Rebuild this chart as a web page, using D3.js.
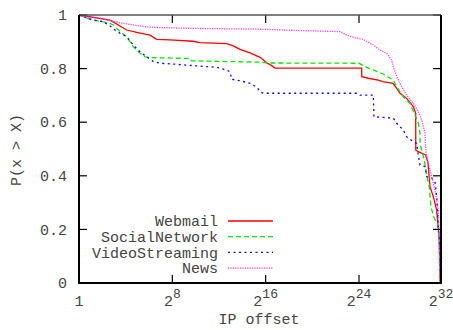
<!DOCTYPE html>
<html>
<head>
<meta charset="utf-8">
<script src="https://cdn.jsdelivr.net/npm/d3@7"></script>
<style>
  html, body { margin: 0; padding: 0; background: #fff; }
  svg { display: block; }
  text { font-family: "Liberation Mono", "DejaVu Sans Mono", monospace; fill: #444; }
</style>
</head>
<body>
<svg id="chart" width="453" height="330"></svg>
<script>
// CCDF of IP offsets; x values are log2(offset), y values are P(x > X)
const seriesNames = ["Webmail", "SocialNetwork", "VideoStreaming", "News"];

const webmailX = [0, 2.66, 4.09, 4.95, 6.09, 6.66, 7.8, 9.77, 10.37, 12.66, 13.23, 13.8, 14.66, 15.52, 16.09, 16.52, 16.8, 24.26, 24.27, 24.91, 25.88, 26.34, 27.32, 27.68, 28.0, 28.65, 29.3, 29.53, 29.54, 29.79, 30.15, 30.5, 30.73, 30.93, 31.09, 31.25, 31.58, 31.74, 31.84, 31.92];
const webmailY = [1, 0.981, 0.944, 0.935, 0.925, 0.909, 0.907, 0.902, 0.897, 0.893, 0.885, 0.872, 0.859, 0.842, 0.822, 0.811, 0.802, 0.802, 0.77, 0.764, 0.757, 0.751, 0.745, 0.726, 0.708, 0.689, 0.658, 0.633, 0.496, 0.49, 0.484, 0.478, 0.448, 0.359, 0.341, 0.322, 0.272, 0.198, 0.16, 0];

const socialX = [0, 0.94, 2.66, 2.94, 3.51, 4.09, 4.65, 5.23, 5.66, 6.09, 9.51, 9.66, 15.52, 16.09, 24.0, 24.59, 25.4, 26.37, 27.35, 27.68, 28.32, 28.98, 29.46, 29.79, 29.95, 29.96, 30.37, 30.63, 30.86, 31.02, 31.28, 31.51, 31.67, 31.83, 31.92];
const socialY = [1, 0.984, 0.969, 0.963, 0.938, 0.919, 0.882, 0.857, 0.844, 0.841, 0.838, 0.829, 0.824, 0.821, 0.82, 0.807, 0.795, 0.78, 0.757, 0.732, 0.695, 0.67, 0.627, 0.596, 0.559, 0.52, 0.459, 0.397, 0.359, 0.285, 0.247, 0.229, 0.223, 0.16, 0];

const videoX = [0, 1.23, 2.08, 2.66, 3.09, 3.51, 4.09, 4.65, 5.23, 5.8, 6.37, 6.94, 8.08, 9.8, 11.8, 12.66, 12.94, 13.09, 13.8, 14.66, 15.23, 15.52, 15.8, 23.8, 24.1, 25.4, 25.46, 26.37, 27.35, 27.68, 28.32, 28.65, 29.3, 29.63, 29.76, 29.95, 30.44, 30.6, 31.09, 31.41, 31.58, 31.74, 31.84, 31.97];
const videoY = [1, 0.981, 0.975, 0.959, 0.944, 0.932, 0.919, 0.888, 0.863, 0.844, 0.826, 0.82, 0.817, 0.811, 0.805, 0.795, 0.788, 0.76, 0.755, 0.745, 0.731, 0.714, 0.708, 0.708, 0.701, 0.701, 0.62, 0.618, 0.615, 0.596, 0.571, 0.546, 0.527, 0.521, 0.484, 0.44, 0.434, 0.397, 0.391, 0.378, 0.322, 0.21, 0.16, 0];

const newsX = [0, 0.09, 1.8, 2.66, 3.51, 4.65, 5.8, 6.94, 9.8, 15.52, 18.94, 22.37, 22.95, 23.51, 24.42, 25.4, 26.05, 26.7, 27.19, 27.35, 27.68, 28.17, 28.65, 29.3, 29.79, 30.12, 30.44, 30.54, 30.76, 31.09, 31.41, 31.58, 31.74, 31.92];
const newsY = [1, 0.996, 0.988, 0.979, 0.971, 0.963, 0.956, 0.953, 0.95, 0.947, 0.942, 0.938, 0.925, 0.917, 0.909, 0.888, 0.869, 0.857, 0.832, 0.807, 0.77, 0.732, 0.701, 0.671, 0.639, 0.608, 0.559, 0.484, 0.447, 0.397, 0.347, 0.31, 0.272, 0];

const xTickExps = [0, 8, 16, 24, 32];
const yTicks = [0, 0.2, 0.4, 0.6, 0.8, 1];

const seriesData = [
  { name: seriesNames[0], xs: webmailX, ys: webmailY, color: "#ff0000", dash: null, width: 1.3 },
  { name: seriesNames[1], xs: socialX, ys: socialY, color: "#00e600", dash: "5,3", width: 1.3 },
  { name: seriesNames[2], xs: videoX, ys: videoY, color: "#0000ff", dash: "2,3.5", width: 1.3 },
  { name: seriesNames[3], xs: newsX, ys: newsY, color: "#ff33ff", dash: "1.2,1.2", width: 1.3 }
];

const svg = d3.select("#chart");
const pLeft = 79, pRight = 441, pTop = 15, pBottom = 283;

// log2 axis: exponent 0..32 laid out along the plot width
const x = d3.scaleLinear().domain([0, 24, 32]).range([pLeft, 359, pRight]);
const y = d3.scaleLinear().domain([0, 1]).range([pBottom, pTop]);

const tickLen = 8;

// curves
const line = d3.line().x(d => x(d[0])).y(d => y(d[1]));
const plot = svg.append("g");
seriesData.forEach(s => {
  const pts = s.xs.map((v, i) => [v, s.ys[i]]);
  plot.append("path")
    .attr("d", line(pts))
    .attr("fill", "none")
    .attr("stroke", s.color)
    .attr("stroke-width", s.width)
    .attr("stroke-dasharray", s.dash);
});

// ticks (inward, mirrored on opposite sides)
const ticks = svg.append("g").attr("stroke", "#000").attr("stroke-width", 1.2);
yTicks.forEach(t => {
  ticks.append("line").attr("x1", pLeft).attr("x2", pLeft + tickLen).attr("y1", y(t)).attr("y2", y(t));
  ticks.append("line").attr("x1", pRight).attr("x2", pRight - tickLen).attr("y1", y(t)).attr("y2", y(t));
});
xTickExps.forEach(e => {
  ticks.append("line").attr("x1", x(e)).attr("x2", x(e)).attr("y1", pBottom).attr("y2", pBottom - tickLen);
  ticks.append("line").attr("x1", x(e)).attr("x2", x(e)).attr("y1", pTop).attr("y2", pTop + tickLen);
});

// border
svg.append("line").attr("x1", pLeft).attr("x2", pRight).attr("y1", pTop).attr("y2", pTop)
  .attr("stroke", "#555").attr("stroke-width", 1.5);
svg.append("path")
  .attr("d", `M${pRight},${pTop}V${pBottom}H${pLeft}V${pTop}`)
  .attr("fill", "none").attr("stroke", "#000").attr("stroke-width", 2);

// y tick labels
const fmt = d3.format("~g");
svg.append("g").selectAll("text").data(yTicks).join("text")
  .attr("x", 67).attr("y", d => y(d))
  .attr("dy", "0.35em")
  .attr("text-anchor", "end")
  .attr("font-size", 15)
  .text(d => fmt(d));

// x tick labels: 1, 2^8, 2^16, ...
const xl = svg.append("g").selectAll("text").data(xTickExps).join("text")
  .attr("x", d => x(d)).attr("y", 306)
  .attr("text-anchor", "middle")
  .attr("font-size", 15);
xl.each(function(d) {
  const t = d3.select(this);
  if (d === 0) { t.text("1"); return; }
  t.append("tspan").text("2");
  t.append("tspan").attr("dy", -8).attr("font-size", 13).text(d);
});

// axis titles
svg.append("text").attr("x", 259).attr("y", 324).attr("text-anchor", "middle")
  .attr("font-size", 15).text("IP offset");
svg.append("text")
  .attr("transform", "translate(21,150) rotate(-90)")
  .attr("text-anchor", "middle").attr("font-size", 15).text("P(x > X)");

// legend
const legend = svg.append("g");
seriesData.forEach((s, i) => {
  const ly = 221 + i * 15.7;
  legend.append("text").attr("x", 218).attr("y", ly).attr("dy", "0.35em")
    .attr("text-anchor", "end").attr("font-size", 15).text(s.name);
  legend.append("line").attr("x1", 228).attr("x2", 273).attr("y1", ly).attr("y2", ly)
    .attr("stroke", s.color).attr("stroke-width", s.width).attr("stroke-dasharray", s.dash);
});
</script>
</body>
</html>
